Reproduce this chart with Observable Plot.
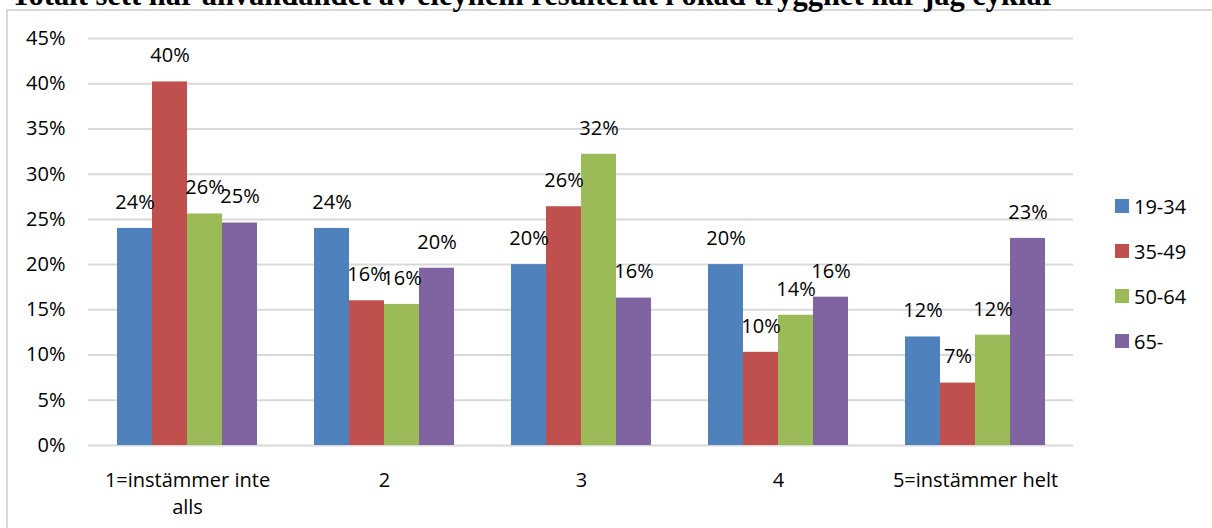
<!DOCTYPE html>
<html><head><meta charset="utf-8">
<script src="https://cdn.jsdelivr.net/npm/d3@7"></script>
<script src="https://cdn.jsdelivr.net/npm/@observablehq/plot@0.6"></script>
<style>
body{margin:0;background:#fff;overflow:hidden;}
#wrap{position:relative;width:1212px;height:528px;overflow:hidden;font-family:"Open Sans";}
#frame{position:absolute;left:6px;top:9px;width:1220px;height:540px;border-left:2px solid #d9d9d9;border-top:2px solid #d9d9d9;}
#title{position:absolute;left:11px;top:-20px;font:bold 30.5px "Liberation Serif";white-space:nowrap;line-height:1;color:#000;z-index:5;}
.plot{position:absolute;left:0;top:0;}
#legend{position:absolute;left:0;top:0;}
.li{position:absolute;left:1115px;display:flex;align-items:center;font-size:20px;color:#000;height:24px;white-space:nowrap;}
.sw{width:14px;height:14px;margin-right:5px;flex:none;}
</style></head>
<body><div id="wrap"><div id="frame"></div><div id="title"></div><div id="base" class="plot"></div><div id="bars" class="plot"></div><div id="legend"></div></div>
<script>
const titleText = "Totalt sett har användandet av eleyhem resulterat i ökad trygghet när jag cyklar";
const categories = ["1=instämmer inte alls", "2", "3", "4", "5=instämmer helt"];
const categoryLabels = ["1=instämmer inte\nalls", "2", "3", "4", "5=instämmer helt"];
const groups = ["19-34", "35-49", "50-64", "65-"];
const colors = ["#4f81bd", "#c0504d", "#9bbb59", "#8064a2"];
const v1934 = [0.240, 0.240, 0.200, 0.200, 0.120];
const v3549 = [0.402, 0.160, 0.264, 0.103, 0.069];
const v5064 = [0.256, 0.156, 0.322, 0.144, 0.122];
const v65   = [0.246, 0.196, 0.163, 0.164, 0.229];
const yTicks = [0, 0.05, 0.10, 0.15, 0.20, 0.25, 0.30, 0.35, 0.40, 0.45];

const series = [v1934, v3549, v5064, v65];
const data = [];
categories.forEach((c, i) => groups.forEach((g, j) => data.push({cat: c, grp: g, value: series[j][i]})));
const pct = d3.format(".0%");

document.getElementById("title").textContent = titleText;

const common = {
  width: 1212, height: 528,
  marginLeft: 88, marginRight: 139, marginTop: 38, marginBottom: 83,
  style: {fontFamily: "Open Sans", fontSize: "20px", color: "#000", background: "transparent", overflow: "visible"}
};

const base = Plot.plot({
  ...common,
  y: {domain: [0, 0.45], label: null},
  x: {domain: categories, paddingInner: 0.274, paddingOuter: 0.137, label: null},
  marks: [
    Plot.ruleY(yTicks, {stroke: "#d9d9d9", strokeWidth: 2, strokeOpacity: 1}),
    Plot.axisY(yTicks, {tickFormat: pct, tickSize: 0, tickPadding: 23, fontSize: 20, label: null}),
    Plot.axisX({tickSize: 0, tickPadding: 22, fontSize: 20, lineHeight: 1.35, tickFormat: (d) => categoryLabels[categories.indexOf(d)], label: null})
  ]
});
document.getElementById("base").appendChild(base);

const bars = Plot.plot({
  ...common,
  y: {domain: [0, 0.45], label: null, axis: null},
  fx: {domain: categories, paddingInner: 0.274, paddingOuter: 0.137, label: null, axis: null},
  x: {domain: groups, padding: 0, axis: null},
  color: {domain: groups, range: colors},
  marks: [
    Plot.barY(data, {fx: "cat", x: "grp", y: "value", fill: "grp"}),
    Plot.text(data, {fx: "cat", x: "grp", y: "value", text: d => pct(d.value), dy: -26, fontSize: 20, fill: "#000"})
  ]
});
document.getElementById("bars").appendChild(bars);

const legend = document.getElementById("legend");
groups.forEach((g, j) => {
  const el = document.createElement("div");
  el.className = "li";
  el.style.top = (194 + j * 45) + "px";
  el.innerHTML = `<div class="sw" style="background:${colors[j]}"></div><span>${g}</span>`;
  legend.appendChild(el);
});
</script></body></html>
